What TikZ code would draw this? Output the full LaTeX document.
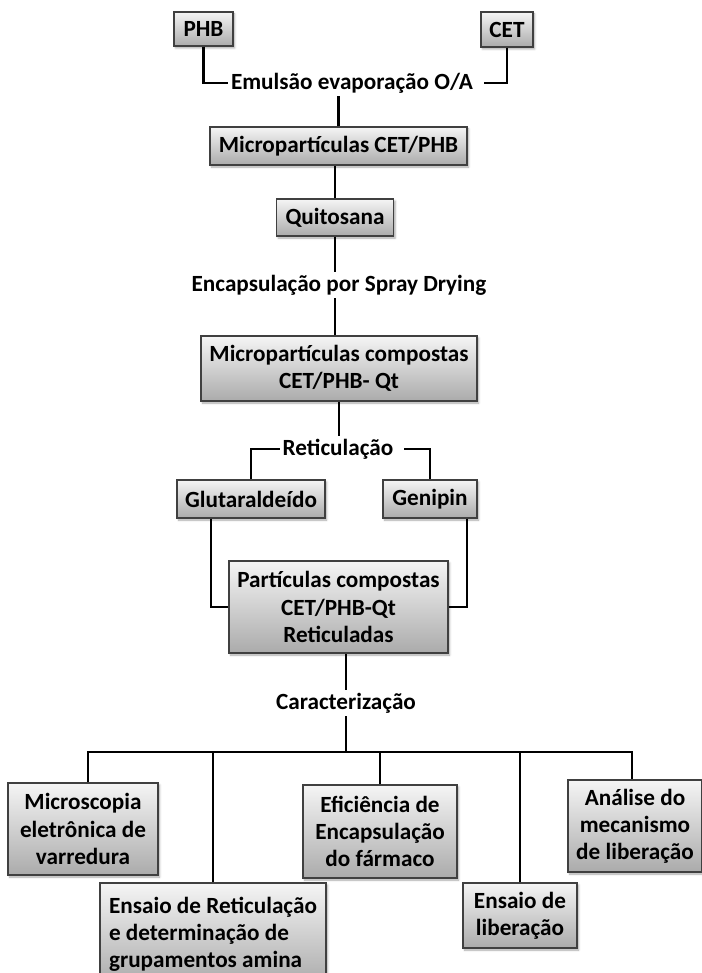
\documentclass[tikz,border=0pt]{standalone}
\usepackage{fontspec}
\setmainfont{Carlito}
\usetikzlibrary{calc,shadows.blur}
\newcommand\lab{\fontsize{17.4pt}{20.3pt}\selectfont\bfseries}
\tikzset{
 box/.style={draw=black!75, line width=0.8pt, top color=black!4, bottom color=black!33,
   blur shadow={shadow xshift=1.2pt, shadow yshift=-1.5pt, shadow blur radius=1.5pt, shadow opacity=35},
   inner sep=0pt, align=center, font=\lab},
 lbl/.style={inner xsep=2pt, inner ysep=2pt, font=\lab},
 conn/.style={line width=2pt, line join=miter},
}
\begin{document}
\begin{tikzpicture}[x=0.75pt,y=-0.75pt]
\useasboundingbox (0,0) rectangle (701,973);
% boxes
\node[box, minimum width=44.25pt, minimum height=25.5pt] (phb) at (203.5,29) {PHB};
\node[box, minimum width=39pt, minimum height=26.25pt] (cet) at (507,29.5) {CET};
\node[lbl] (emul) at (352,83) {Emulsão evaporação O/A};
\node[box, minimum width=192.75pt, minimum height=28.5pt] (micro) at (338.5,146) {Micropartículas CET/PHB};
\node[box, minimum width=87.75pt, minimum height=27.75pt] (quit) at (335,217.5) {Quitosana};
\node[lbl] (spray) at (339,285) {Encapsulação por Spray Drying};
\node[box, minimum width=207pt, minimum height=48.75pt] (comp) at (339,368.5) {Micropartículas compostas\\CET/PHB- Qt};
\node[lbl] (reti) at (338,449) {Reticulação};
\node[box, minimum width=111pt, minimum height=28.5pt] (glut) at (251,499) {Glutaraldeído};
\node[box, minimum width=70.5pt, minimum height=28.5pt] (gen) at (430,499) {Genipin};
\node[box, minimum width=164.25pt, minimum height=69pt] (part) at (338.5,607) {Partículas compostas\\CET/PHB-Qt\\Reticuladas};
\node[lbl] (cara) at (346,703) {Caracterização};
\node[box, minimum width=112.5pt, minimum height=69pt] (micr) at (83,829) {Microscopia\\eletrônica de\\varredura};
\node[box, minimum width=169.5pt, minimum height=76.5pt, align=left] (ensR) at (213,934) {Ensaio de Reticulação\\e determinação de\\grupamentos amina};
\node[box, minimum width=115.5pt, minimum height=69.75pt] (efic) at (380,831.5) {Eficiência de\\Encapsulação\\do fármaco};
\node[box, minimum width=85.5pt, minimum height=48.75pt] (ensL) at (520,915.5) {Ensaio de\\liberação};
\node[box, minimum width=100.5pt, minimum height=69pt] (anal) at (635,826) {Análise do\\mecanismo\\de liberação};
% connectors
\coordinate (bus) at (0,752);
\draw[conn] (phb.south) |- (emul.west);
\draw[conn] (cet.south) |- ($(emul.east)+(8,0)$);
\draw[conn] (micro.north) -- (micro.north |- emul.south);
\draw[conn] (quit.north) -- (quit.north |- micro.south);
\draw[conn] (quit.south) -- (quit.south |- spray.north);
\draw[conn] (spray.south -| quit.south) -- (comp.north -| quit.south);
\draw[conn] (comp.south) -- (comp.south |- reti.north);
\draw[conn] (reti.west) -| (glut.north);
\draw[conn] ($(reti.east)+(8,0)$) -| (gen.north);
\draw[conn] ($(glut.south)+(-40,0)$) |- (part.west);
\draw[conn] ($(gen.south)+(37,0)$) |- (part.east);
\draw[conn] (cara.north) -- (cara.north |- part.south);
\draw[conn] (cara.south) -- (cara.south |- bus);
\draw[conn] ($(micr.north)+(5,0)$) |- ($(anal.north |- bus)+(-3,0)$) -- ($(anal.north)+(-3,0)$);
\draw[conn] (ensR.north) -- (ensR.north |- bus);
\draw[conn] (efic.north) -- (efic.north |- bus);
\draw[conn] (ensL.north) -- (ensL.north |- bus);
\end{tikzpicture}
\end{document}
